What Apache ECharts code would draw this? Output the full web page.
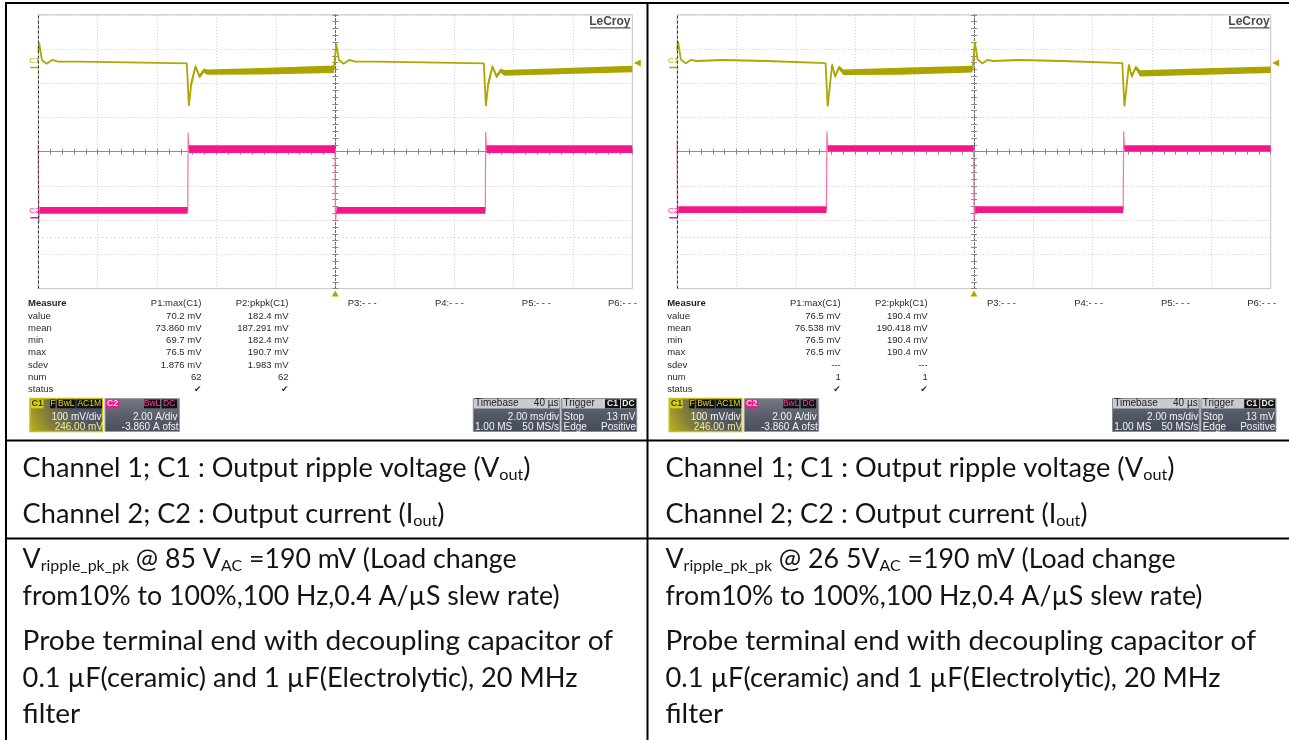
<!DOCTYPE html>
<html><head><meta charset="utf-8">
<script src="https://cdn.jsdelivr.net/npm/echarts@6/dist/echarts.min.js"></script>
<style>html,body{margin:0;padding:0;background:#fff}#c{width:1289px;height:740px}</style>
</head><body><div id="c"></div><script>
// ================= DATA =================
// Scope settings (both captures): 2 ms/div time base, 10 divisions, 8 vertical divisions
const timeMinMs = -10, timeMaxMs = 10, timeDivMs = 2;
const c1MvPerDiv = 100, c1OffsetMv = 246;      // C1 100 mV/div, 246.00 mV offset
const c2APerDiv = 2, c2OffsetA = -3.86;        // C2 2.00 A/div, -3.860 A ofst
const trigLevelMv = 13;                         // Trigger level 13 mV

// ---- Left capture (85 VAC) : C1 output ripple voltage (mV) vs time (ms)
const leftC1T  = [-10, -9.97, -9.88, -9.72, -9.53, -9.33, -8.6, -7.0, -5.0, -4.96, -4.93, -4.86, -4.71, -4.57, -4.43, -4.31, -2.5, -0.05, 0.0, 0.03, 0.12, 0.28, 0.47, 0.67, 1.4, 3.0, 5.0, 5.04, 5.07, 5.14, 5.29, 5.43, 5.57, 5.69, 7.5, 10];
const leftC1Mv = [46, 72, 22, 11, 22, 17, 17, 15, 12, 11, -112, -55, 3, -26, -9, -16, -11, -5, 40, 70, 22, 11, 22, 17, 17, 15, 12, 11, -112, -55, 3, -26, -9, -16, -11, -4.5];
// C1 noise envelope during full load (null separates segments)
const leftC1BandT  = [-4.88, -4.71, -4.57, -4.43, -4.31, -2.5, -0.05, null, 5.12, 5.29, 5.43, 5.57, 5.69, 7.5, 10];
const leftC1BandHi = [-45, 9, -20, -3, -6, -1.6, 6, null, -45, 9, -20, -3, -7, -2, 5];
const leftC1BandLo = [-62, -3, -32, -15, -21, -20.5, -16, null, -62, -3, -32, -15, -24, -20, -14];
// C2 output current (A)
const leftC2T = [-10, -9.985, -9.96, -4.97, -4.955, -4.93, -0.01, 0.005, 0.04, 5.05, 5.065, 5.09, 10];
const leftC2A = [4.27, -0.29, 0.42, 0.42, 4.97, 4.0, 4.0, -0.21, 0.42, 0.42, 5.01, 4.0, 4.0];
const leftC2BandT  = [-9.96, -4.97, null, -4.93, -0.01, null, 0.04, 5.05, null, 5.09, 10];
const leftC2BandHi = [0.63, 0.63, null, 4.23, 4.23, null, 0.63, 0.63, null, 4.23, 4.23];
const leftC2BandLo = [0.24, 0.24, null, 3.78, 3.78, null, 0.24, 0.24, null, 3.78, 3.78];

// ---- Right capture (265 VAC)
const rightC1T  = [-10, -9.97, -9.88, -9.72, -9.55, -9.35, -8.5, -7.0, -5.0, -4.96, -4.93, -4.85, -4.78, -4.68, -4.55, -4.4, -2.5, -0.05, 0.0, 0.03, 0.12, 0.28, 0.45, 0.65, 1.5, 3.0, 5.0, 5.04, 5.07, 5.15, 5.22, 5.32, 5.45, 5.6, 7.5, 10];
const rightC1Mv = [50, 76, 24, 12, 22, 19, 22, 19, 13, 12, -114, -50, 8, -26, 0, -14, -11, -5, 40, 74, 24, 12, 22, 19, 22, 19, 13, 12, -114, -50, 8, -26, 0, -14, -12, -6];
const rightC1BandT  = [-4.86, -4.78, -4.68, -4.55, -4.4, -2.5, -0.05, null, 5.14, 5.22, 5.32, 5.45, 5.6, 7.5, 10];
const rightC1BandHi = [-42, 14, -20, 6, -6, -1, 5, null, -42, 14, -20, 6, -8, -3, 3];
const rightC1BandLo = [-58, 2, -32, -6, -22, -21, -14.4, null, -58, 2, -32, -6, -26, -22, -16];
const rightC2T = [-10, -9.985, -9.96, -4.97, -4.955, -4.93, -0.01, 0.005, 0.04, 5.03, 5.045, 5.07, 10];
const rightC2A = [4.46, 0.0, 0.47, 0.47, 5.05, 4.05, 4.05, -0.11, 0.47, 0.47, 5.05, 4.05, 4.05];
const rightC2BandT  = [-9.96, -4.97, null, -4.93, -0.01, null, 0.04, 5.03, null, 5.07, 10];
const rightC2BandHi = [0.67, 0.67, null, 4.23, 4.23, null, 0.67, 0.67, null, 4.23, 4.23];
const rightC2BandLo = [0.28, 0.28, null, 3.88, 3.88, null, 0.28, 0.28, null, 3.88, 3.88];

// ---- Measurement tables
const measureHeaders = ['P1:max(C1)', 'P2:pkpk(C1)', 'P3:- - -', 'P4:- - -', 'P5:- - -', 'P6:- - -'];
const measureRows = ['value', 'mean', 'min', 'max', 'sdev', 'num', 'status'];
const leftP1  = ['70.2 mV', '73.860 mV', '69.7 mV', '76.5 mV', '1.876 mV', '62', '\u2714'];
const leftP2  = ['182.4 mV', '187.291 mV', '182.4 mV', '190.7 mV', '1.983 mV', '62', '\u2714'];
const rightP1 = ['76.5 mV', '76.538 mV', '76.5 mV', '76.5 mV', '---', '1', '\u2714'];
const rightP2 = ['190.4 mV', '190.418 mV', '190.4 mV', '190.4 mV', '---', '1', '\u2714'];
const c1BoxText = ['C1', 'F', 'BwL', 'AC1M', '100 mV/div', '246.00 mV'];
const c2BoxText = ['C2', 'BwL', 'DC', '2.00 A/div', '-3.860 A ofst'];
const timebaseText = ['Timebase', '40 \u00b5s', '2.00 ms/div', '1.00 MS', '50 MS/s'];
const triggerText = ['Trigger', 'C1', 'DC', 'Stop', '13 mV', 'Edge', 'Positive'];

// ---- Table cell notes: [text, isSubscript]
const leftNotes = [
  [['Channel 1; C1 : Output ripple voltage (V'], ['out', 1], [')']],
  [['Channel 2; C2 : Output current (I'], ['out', 1], [')']],
  [['V'], ['ripple_pk_pk', 1], [' @ 85 V'], ['AC', 1], [' =190 mV (Load change']],
  [['from10% to 100%,100 Hz,0.4 A/\u00b5S slew rate)']],
  [['Probe terminal end with decoupling capacitor of']],
  [['0.1 \u00b5F(ceramic) and 1 \u00b5F(Electrolytic), 20 MHz']],
  [['filter']]
];
const rightNotes = [
  [['Channel 1; C1 : Output ripple voltage (V'], ['out', 1], [')']],
  [['Channel 2; C2 : Output current (I'], ['out', 1], [')']],
  [['V'], ['ripple_pk_pk', 1], [' @ 26 5V'], ['AC', 1], [' =190 mV (Load change']],
  [['from10% to 100%,100 Hz,0.4 A/\u00b5S slew rate)']],
  [['Probe terminal end with decoupling capacitor of']],
  [['0.1 \u00b5F(ceramic) and 1 \u00b5F(Electrolytic), 20 MHz']],
  [['filter']]
];

// ================= LAYOUT / STYLE =================
const FONT = '"Liberation Sans", Arial, sans-serif';
const YEL = '#aea700', YBAND = '#aaa400', PINK = '#f4168a', PINKEDGE = '#ff6cb4';
const SC = [{gl: 38.3, gw: 594, ox: 0}, {gl: 677.2, gw: 593.5, ox: 639.2}];
const GT = 14.8, GH = 273.8;
const zip = (a, b) => a.map((v, i) => [v, b[i]]);

const scopes = [
  {c1T: leftC1T, c1V: leftC1Mv, c1bT: leftC1BandT, c1bH: leftC1BandHi, c1bL: leftC1BandLo,
   c2T: leftC2T, c2V: leftC2A, c2bT: leftC2BandT, c2bH: leftC2BandHi, c2bL: leftC2BandLo, p1: leftP1, p2: leftP2},
  {c1T: rightC1T, c1V: rightC1Mv, c1bT: rightC1BandT, c1bH: rightC1BandHi, c1bL: rightC1BandLo,
   c2T: rightC2T, c2V: rightC2A, c2bT: rightC2BandT, c2bH: rightC2BandHi, c2bL: rightC2BandLo, p1: rightP1, p2: rightP2}
];

function band(s, yIdx, T, HI, LO, color, z) {
  return {
    type: 'custom', xAxisIndex: 2 * s, yAxisIndex: yIdx, silent: true, animation: false, z: z,
    data: [[T[0], LO[0], HI[0]]], encode: {x: 0, y: [1, 2]},
    renderItem: function (params, api) {
      if (params.dataIndex !== 0) return null;
      const children = []; let up = [], dn = [];
      const flush = () => {
        if (up.length > 1) children.push({type: 'polygon', shape: {points: up.concat(dn.reverse())}, style: {fill: color}});
        up = []; dn = [];
      };
      for (let i = 0; i < T.length; i++) {
        if (T[i] === null) { flush(); continue; }
        up.push(api.coord([T[i], HI[i]]));
        dn.push(api.coord([T[i], LO[i]]));
      }
      flush();
      return {type: 'group', children: children};
    }
  };
}

const grids = [], xAxes = [], yAxes = [], series = [];
scopes.forEach((d, s) => {
  grids.push({left: SC[s].gl, top: GT, width: SC[s].gw, height: GH, show: true,
    borderColor: '#c6c6c6', borderWidth: 1, containLabel: false, outerBoundsMode: 'none'});
  const tickStyle = {color: '#8a8a8a', width: 1};
  const baseX = {gridIndex: s, type: 'value', min: timeMinMs, max: timeMaxMs, interval: timeDivMs,
    axisLabel: {show: false}, axisTick: {show: true, inside: true, length: 3, lineStyle: tickStyle},
    minorTick: {show: true, splitNumber: 5, length: 3, lineStyle: tickStyle}};
  xAxes.push(Object.assign({}, baseX, {position: 'bottom',
    splitLine: {show: true, lineStyle: {color: '#cdcdcd', type: [1, 2], width: 1}},
    axisLine: {show: true, onZero: true, onZeroAxisIndex: 4 * s, lineStyle: {color: '#8c8c8c', width: 1}}}));
  xAxes.push(Object.assign({}, baseX, {position: 'top', splitLine: {show: false},
    axisLine: {show: true, onZero: true, onZeroAxisIndex: 4 * s, lineStyle: {color: '#8c8c8c', width: 1}}}));
  const baseY = {gridIndex: s, type: 'value', min: -4, max: 4, interval: 1, axisLabel: {show: false},
    axisTick: {show: true, inside: true, length: 3, lineStyle: tickStyle},
    minorTick: {show: true, splitNumber: 5, length: 3, lineStyle: tickStyle}};
  yAxes.push(Object.assign({}, baseY, {position: 'left',
    splitLine: {show: true, lineStyle: {color: '#cdcdcd', type: [1, 2], width: 1}},
    axisLine: {show: true, onZero: true, onZeroAxisIndex: 2 * s, lineStyle: {color: '#666', type: [2, 2], width: 1}}}));
  yAxes.push(Object.assign({}, baseY, {position: 'right', splitLine: {show: false},
    axisLine: {show: true, onZero: true, onZeroAxisIndex: 2 * s, lineStyle: {color: '#666', type: [2, 2], width: 1}}}));
  yAxes.push({gridIndex: s, type: 'value', show: false,
    min: -4 * c1MvPerDiv - c1OffsetMv, max: 4 * c1MvPerDiv - c1OffsetMv});
  yAxes.push({gridIndex: s, type: 'value', show: false,
    min: -4 * c2APerDiv - c2OffsetA, max: 4 * c2APerDiv - c2OffsetA});

  // frame accents: dark dashed left edge, dotted reference, trigger-time marker
  series.push({type: 'line', xAxisIndex: 2 * s, yAxisIndex: 4 * s, data: [], silent: true,
    markLine: {silent: true, symbol: 'none', animation: false, label: {show: false},
      data: [{xAxis: timeMinMs, lineStyle: {color: '#333', type: [3, 2], width: 1}},
             {yAxis: -2.5, lineStyle: {color: '#bcbcbc', type: [1, 3], width: 1}}]},
    markPoint: {animation: false, silent: true, data: [{coord: [0, -4], symbol: 'triangle', symbolSize: [7, 6],
      symbolOffset: [0, 5], itemStyle: {color: YEL}, label: {show: false}}]}});

  // C2 current
  series.push(band(s, 4 * s + 3, d.c2bT, d.c2bH, d.c2bL, PINK, 3));
  series.push({type: 'line', xAxisIndex: 2 * s, yAxisIndex: 4 * s + 3, data: zip(d.c2T, d.c2V), symbol: 'none',
    silent: true, z: 2, lineStyle: {color: PINKEDGE, width: 1.2},
    markPoint: {animation: false, silent: true, data: [{coord: [timeMinMs, 0], symbol: 'rect', symbolSize: [8, 1.5],
      symbolOffset: [-4, 0], itemStyle: {color: PINK},
      label: {show: true, position: 'top', distance: 2, formatter: 'C2', color: PINK, fontSize: 8, fontFamily: FONT}}]}});
  // C1 voltage
  series.push({type: 'line', xAxisIndex: 2 * s, yAxisIndex: 4 * s + 2, data: zip(d.c1T, d.c1V), symbol: 'none',
    silent: true, z: 4, lineStyle: {color: YEL, width: 1.8},
    markPoint: {animation: false, silent: true, data: [
      {coord: [timeMinMs, 0], symbol: 'rect', symbolSize: [8, 1.5], symbolOffset: [-4, 0], itemStyle: {color: YEL},
       label: {show: true, position: 'top', distance: 2, formatter: 'C1', color: YEL, fontSize: 8, fontFamily: FONT}},
      {coord: [timeMaxMs, trigLevelMv], symbol: 'triangle', symbolRotate: 90, symbolSize: [7, 7], symbolOffset: [5, 0],
       itemStyle: {color: YEL}, label: {show: false}}]}});
  series.push(band(s, 4 * s + 2, d.c1bT, d.c1bH, d.c1bL, YBAND, 5));
});

// ================= GRAPHIC (table, texts, info boxes) =================
const G = [];
function T(x, y, text, o) {
  o = o || {};
  G.push({type: 'text', x: x, y: y, silent: true, z: o.z || 10, scaleX: o.sx || 1,
    style: {text: text, font: o.font || ('9.5px ' + FONT), fill: o.fill || '#2a2a2a',
      textAlign: o.align || 'left', textVerticalAlign: 'middle'}});
}
function R(x, y, w, h, fill, stroke, lw, z) {
  G.push({type: 'rect', silent: true, z: z || 5, shape: {x: x, y: y, width: w, height: h},
    style: {fill: fill, stroke: stroke || null, lineWidth: lw || 0}});
}
function L(x1, y1, x2, y2, color, w) {
  G.push({type: 'line', silent: true, z: 20, shape: {x1: x1, y1: y1, x2: x2, y2: y2}, style: {stroke: color, lineWidth: w}});
}
const LG = (x, y, x2, y2, stops) => new echarts.graphic.LinearGradient(x, y, x2, y2, stops.map((c, i) => ({offset: i / (stops.length - 1), color: c})));

// table borders
L(5, 3, 1289, 3, '#000', 2);
L(6, 2, 6, 740, '#000', 2);
L(647.5, 2, 647.5, 740, '#000', 2);
L(5, 440.5, 1289, 440.5, '#000', 2);
L(5, 538.5, 1289, 538.5, '#000', 2);

function scopeDecor(ox, d) {
  T(630.5 + ox, 21.5, 'LeCroy', {font: 'bold 12px ' + FONT, fill: '#4a4a4a', align: 'right'});
  L(590 + ox, 27.8, 630.5 + ox, 27.8, '#555', 1.2);
  const y0 = 303.8, dy = 12.25;
  T(28 + ox, y0, 'Measure', {font: 'bold 9.5px ' + FONT, fill: '#1e1e1e'});
  T(201.5 + ox, y0, measureHeaders[0], {align: 'right'});
  T(288.5 + ox, y0, measureHeaders[1], {align: 'right'});
  [347.7, 435, 521.8, 608].forEach((x, i) => T(x + ox, y0, measureHeaders[2 + i]));
  measureRows.forEach((r, i) => {
    const y = y0 + dy * (i + 1);
    T(28 + ox, y, r);
    const chk = d.p1[i] === '\u2714';
    const f = chk ? ('9px "DejaVu Sans", ' + FONT) : undefined;
    T(201.5 + ox, y, d.p1[i], {align: 'right', font: f});
    T(288.5 + ox, y, d.p2[i], {align: 'right', font: f});
  });
  // C1 box
  const by = 398.5, bh = 33, hy = 403.6, r2 = 417.2, r3 = 427.3;
  R(30 + ox, by, 72.5, bh, LG(0, 1, 0.9, 0, ['#bdb51c', '#7d7a3c', '#535866', '#4c5160']), '#c7bf1c', 1.5);
  R(31 + ox, 399.5, 12.5, 8.8, '#d9d10e', null, 0, 6);
  T(37.2 + ox, hy, c1BoxText[0], {font: 'bold 9px ' + FONT, fill: '#3a3a10', align: 'center'});
  [[50, 5.5], [57, 18.5], [76.5, 25.5]].forEach((b, i) => {
    R(b[0] + ox, 399.5, b[1], 8.8, '#111', null, 0, 6);
    T(b[0] + b[1] / 2 + ox, hy, c1BoxText[1 + i], {font: '8.5px ' + FONT, fill: '#e3da10', align: 'center'});
  });
  T(101.5 + ox, r2, c1BoxText[4], {fill: '#f4f4f4', align: 'right', font: '10px ' + FONT});
  T(103 + ox, r3, c1BoxText[5], {fill: '#f5f08a', align: 'right', font: '10px ' + FONT});
  // C2 box
  R(105 + ox, by, 74.5, bh, LG(0, 0, 0, 1, ['#777b86', '#5b5f6b', '#4b4f5b']), '#9c9ca4', 1);
  R(106 + ox, 399.5, 13, 8.8, '#ec1a84', null, 0, 6);
  T(112.5 + ox, hy, c2BoxText[0], {font: 'bold 9px ' + FONT, fill: '#ffd0e8', align: 'center'});
  [[144, 16], [161.5, 15.5]].forEach((b, i) => {
    R(b[0] + ox, 399.5, b[1], 8.8, '#111', null, 0, 6);
    T(b[0] + b[1] / 2 + ox, hy, c2BoxText[1 + i], {font: '8.5px ' + FONT, fill: '#ff3d9c', align: 'center'});
  });
  T(177.5 + ox, r2, c2BoxText[3], {fill: '#f4f4f4', align: 'right', font: '10px ' + FONT});
  T(178.5 + ox, r3, c2BoxText[4], {fill: '#f4f4f4', align: 'right', font: '10px ' + FONT});
  // Timebase box
  R(473.3 + ox, by, 86.7, bh, LG(0, 0, 0, 1, ['#6b7180', '#525867', '#454b59']), '#8b8c94', 1);
  R(473.8 + ox, 399, 85.7, 9.5, '#c9cbd1', null, 0, 6);
  T(475 + ox, hy, timebaseText[0], {fill: '#222', font: '10px ' + FONT});
  T(558.5 + ox, hy, timebaseText[1], {fill: '#222', align: 'right', font: '10px ' + FONT});
  T(559 + ox, r2, timebaseText[2], {fill: '#f4f4f4', align: 'right', font: '10px ' + FONT});
  T(475 + ox, r3, timebaseText[3], {fill: '#f4f4f4', font: '10px ' + FONT});
  T(559 + ox, r3, timebaseText[4], {fill: '#f4f4f4', align: 'right', font: '10px ' + FONT});
  // Trigger box
  R(561.7 + ox, by, 75, bh, LG(0, 0, 0, 1, ['#6b7180', '#525867', '#454b59']), '#8b8c94', 1);
  R(562.2 + ox, 399, 74, 9.5, '#c9cbd1', null, 0, 6);
  T(563.5 + ox, hy, triggerText[0], {fill: '#222', font: '10px ' + FONT});
  [[605, 15], [621, 15]].forEach((b, i) => {
    R(b[0] + ox, 399.3, b[1], 9, '#111', null, 0, 7);
    T(b[0] + b[1] / 2 + ox, hy, triggerText[1 + i], {font: 'bold 8.5px ' + FONT, fill: '#f0f0f0', align: 'center'});
  });
  T(563.5 + ox, r2, triggerText[3], {fill: '#f4f4f4', font: '10px ' + FONT});
  T(635.5 + ox, r2, triggerText[4], {fill: '#f4f4f4', align: 'right', font: '10px ' + FONT});
  T(563.5 + ox, r3, triggerText[5], {fill: '#f4f4f4', font: '10px ' + FONT});
  T(636 + ox, r3, triggerText[6], {fill: '#f4f4f4', align: 'right', font: '10px ' + FONT});
}
scopeDecor(SC[0].ox, scopes[0]);
scopeDecor(SC[1].ox, scopes[1]);

// cell notes in Lato, each line horizontally fitted to the width it has in the reference
const ctx = document.createElement('canvas').getContext('2d');
const NF = 26, SUBF = 15.5, NOTE_FONT = 'Lato';
const noteY = [469, 515, 560, 596.7, 641.7, 678.3, 715];
const leftNoteWidths  = [508, 422, 494, 537, 590.5, 555, null];
const rightNoteWidths = [509, 422, 510, 537, 590.5, 555, null];
function segW(seg) { ctx.font = (seg[1] ? SUBF : NF) + 'px ' + NOTE_FONT; return ctx.measureText(seg[0]).width; }
function notes(x0, lines, widths) {
  const refSX = widths[4] / lines[4].reduce((a, s) => a + segW(s), 0);
  lines.forEach((segs, li) => {
    const natural = segs.reduce((a, s) => a + segW(s), 0);
    const sx = widths[li] ? widths[li] / natural : refSX;
    let cx = x0;
    segs.forEach(seg => {
      const sub = !!seg[1];
      const fs = sub ? SUBF : NF;
      T(cx, noteY[li] + (sub ? 6 : 0), seg[0], {font: fs + 'px ' + NOTE_FONT, fill: '#141414', sx: sx});
      cx += segW(seg) * sx;
    });
  });
}
notes(22.6, leftNotes, leftNoteWidths);
notes(665.5, rightNotes, rightNoteWidths);

const chart = echarts.init(document.getElementById('c'), null, {renderer: 'canvas', width: 1289, height: 740});
chart.setOption({
  animation: false,
  backgroundColor: '#ffffff',
  grid: grids, xAxis: xAxes, yAxis: yAxes, series: series,
  graphic: {elements: G}
});
</script></body></html>
